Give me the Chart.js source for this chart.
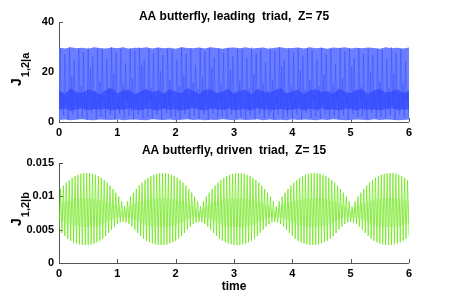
<!DOCTYPE html>
<html>
<head>
<meta charset="utf-8">
<script src="https://cdn.jsdelivr.net/npm/chart.js@4.4.0/dist/chart.umd.min.js"></script>
<style>
  html, body { margin: 0; padding: 0; background: #fff; }
  #wrap { position: relative; width: 452px; height: 296px; overflow: hidden; }
  canvas { position: absolute; left: 0; }
</style>
</head>
<body>
<div id="wrap">
  <canvas id="chartA" width="452" height="138" style="top:0px"></canvas>
  <canvas id="chartB" width="452" height="156" style="top:140px"></canvas>
</div>
<script>
// ---- data ----
const titleA = "AA butterfly, leading  triad,  Z= 75";
const titleB = "AA butterfly, driven  triad,  Z= 15";
const xTicks = [0, 1, 2, 3, 4, 5, 6];
const yTicksA = [0, 20, 40];
const yTicksB = [0, 0.005, 0.01, 0.015];

// leading triad, envelopes sampled every 0.1 in time
const envStepA = 0.1;
const envTopA = [
  29.8, 29.4, 29.9, 29.5, 29.7, 29.3, 29.9, 29.6, 29.4, 29.8,
  29.5, 29.9, 29.3, 29.7, 29.6, 29.9, 29.4, 29.8, 29.5, 29.7,
  29.3, 29.9, 29.6, 29.5, 29.8, 29.4, 29.9, 29.6, 29.3, 29.7,
  29.8, 29.5, 29.9, 29.4, 29.6, 29.8, 29.3, 29.7, 29.9, 29.5,
  29.6, 29.8, 29.4, 29.9, 29.5, 29.7, 29.3, 29.8, 29.6, 29.9,
  29.4, 29.7, 29.5, 29.8, 29.6, 29.3, 29.9, 29.5, 29.7, 29.4,
  29.8
];
const envBottomA = [
  0.8, 1.0, 0.7, 0.9, 1.1, 0.8, 0.7, 1.0, 0.9, 0.8,
  1.1, 0.7, 0.9, 1.0, 0.8, 0.7, 1.1, 0.9, 0.8, 1.0,
  0.7, 0.9, 1.1, 0.8, 1.0, 0.7, 0.9, 0.8, 1.1, 0.9,
  0.7, 1.0, 0.8, 0.9, 1.1, 0.7, 1.0, 0.8, 0.9, 0.7,
  1.1, 0.8, 1.0, 0.9, 0.7, 1.0, 0.8, 1.1, 0.9, 0.7,
  0.8, 1.0, 0.9, 0.7, 1.1, 0.8, 1.0, 0.9, 0.7, 0.8,
  1.0
];
// dense dark band near the bottom
const bandLowA = [
  4.8, 5.3, 4.6, 5.0, 5.5, 4.7, 5.2, 4.9, 5.4, 4.6,
  5.1, 4.8, 5.5, 4.9, 4.7, 5.3, 5.0, 4.6, 5.4, 4.8,
  5.2, 4.7, 5.0, 5.5, 4.9, 4.6, 5.3, 5.1, 4.8, 5.4,
  4.7, 5.0, 5.2, 4.6, 5.5, 4.9, 5.1, 4.8, 5.3, 4.7,
  5.0, 5.4, 4.6, 5.2, 4.9, 5.5, 4.8, 5.0, 4.7, 5.3,
  5.1, 4.6, 5.4, 4.9, 5.0, 4.7, 5.2, 5.5, 4.8, 5.0,
  4.9
];
const bandHighA = [
  12.5, 11.2, 13.4, 12.0, 11.6, 13.1, 12.3, 11.0, 12.8, 13.5,
  11.4, 12.6, 13.0, 11.1, 12.2, 13.3, 11.8, 12.7, 11.3, 13.2,
  12.1, 11.5, 13.6, 12.4, 11.2, 12.9, 13.1, 11.7, 12.0, 13.4,
  11.3, 12.5, 12.9, 11.0, 13.3, 12.2, 11.6, 12.8, 13.5, 11.4,
  12.3, 13.0, 11.1, 12.6, 13.2, 11.9, 12.4, 11.3, 13.4, 12.1,
  11.5, 12.9, 13.1, 11.2, 12.7, 13.3, 11.8, 12.2, 13.0, 11.6,
  12.4
];
// fast oscillation: lows at t = 0, 0.04, ... and highs in between
const stepA = 0.02;
const lowsA = [
  1.2, 5.5, 2.6, 7.1, 1.0, 4.2, 3.1, 8.0, 1.5, 6.2,
  2.0, 4.6, 0.9, 7.4, 3.6, 5.1, 1.3, 6.6, 2.3, 8.6,
  1.1, 4.9, 2.8, 7.0, 0.8, 5.8, 3.3, 6.1, 1.7, 8.3,
  2.4, 4.4, 1.0, 7.6, 3.0, 5.3, 1.4, 6.8, 2.1, 8.1,
  1.2, 4.7, 2.7, 7.3, 0.9, 5.6, 3.4, 6.4, 1.6, 8.8,
  2.2, 4.3, 1.1, 7.2, 3.2, 5.0, 1.3, 6.9, 2.5, 8.2,
  1.0, 4.8, 2.9, 7.5, 0.8, 5.7, 3.5, 6.3, 1.8, 8.5,
  2.3, 4.5, 1.2, 7.0, 3.1, 5.4, 1.5, 6.7, 2.0, 8.7,
  1.1, 4.6, 2.6, 7.4, 0.9, 5.9, 3.3, 6.2, 1.7, 8.4,
  2.5, 4.2, 1.0, 7.1, 3.0, 5.2, 1.4, 6.5, 2.2, 8.0,
  1.3, 4.9, 2.8, 7.6, 0.8, 5.5, 3.6, 6.0, 1.6, 8.6,
  2.1, 4.4, 1.1, 7.3, 3.4, 5.1, 1.2, 6.8, 2.4, 8.3,
  1.0, 4.7, 2.7, 7.2, 0.9, 5.8, 3.2, 6.4, 1.9, 8.9,
  2.3, 4.3, 1.2, 7.5, 3.5, 5.3, 1.5, 6.6, 2.0, 8.1,
  1.2, 4.8, 2.9, 7.0, 0.8, 5.6, 3.1, 6.1, 1.8, 8.4,
  1.5
];
const highsA = [
  29.6, 12.0, 27.1, 9.5, 29.8, 18.2, 24.5, 11.0, 29.5, 14.3,
  28.0, 10.2, 29.7, 21.4, 26.2, 12.5, 29.4, 16.1, 29.0, 10.5,
  25.3, 13.7, 29.9, 19.5, 27.8, 9.8, 29.3, 15.0, 23.6, 11.8,
  29.6, 17.4, 28.5, 10.9, 29.8, 22.7, 25.1, 12.2, 29.5, 13.6,
  27.4, 9.7, 29.7, 20.3, 26.8, 11.5, 29.2, 16.8, 28.7, 10.1,
  24.9, 14.4, 29.9, 18.6, 27.3, 10.4, 29.4, 15.7, 22.8, 12.9,
  29.5, 17.9, 28.2, 9.9, 29.8, 21.8, 25.6, 11.3, 29.6, 14.8,
  27.7, 10.6, 29.5, 20.9, 26.4, 12.1, 29.3, 16.4, 28.9, 9.6,
  25.8, 13.2, 29.8, 19.1, 27.5, 10.8, 29.1, 15.4, 23.9, 12.6,
  29.7, 17.0, 28.4, 10.3, 29.9, 22.1, 24.7, 11.7, 29.4, 14.0,
  27.9, 9.9, 29.6, 20.6, 26.6, 12.8, 29.5, 16.6, 28.6, 10.7,
  25.1, 14.1, 29.8, 18.9, 27.2, 10.0, 29.2, 15.3, 23.2, 12.4,
  29.5, 17.6, 28.3, 10.6, 29.7, 22.4, 25.4, 11.1, 29.6, 13.9,
  27.6, 10.3, 29.4, 20.1, 26.9, 11.9, 29.3, 16.2, 28.8, 9.8,
  25.5, 13.5, 29.9, 19.3, 27.6, 10.9, 29.0, 15.6, 24.2, 12.3
];

// driven triad: troughs at t = 0, 0.05, ... and peaks half a step later
const stepB = 0.025;
const lowsB = [
  .0050, .0045, .00405, .00365, .00333, .00311, .00293, .0028, .00272, .0027,
  .00272, .0028, .00293, .00311, .00333, .00365, .00405, .0045, .0050, .00545, .00583, .00608, .00618,
  .00608, .00583, .00545, .0050, .0045, .00405, .00365, .00333, .00311, .00293, .0028, .00272, .0027,
  .00272, .0028, .00293, .00311, .00333, .00365, .00405, .0045, .0050, .00545, .00583, .00608, .00618,
  .00608, .00583, .00545, .0050, .0045, .00405, .00365, .00333, .00311, .00293, .0028, .00272, .0027,
  .00272, .0028, .00293, .00311, .00333, .00365, .00405, .0045, .0050, .00545, .00583, .00608, .00618,
  .00608, .00583, .00545, .0050, .0045, .00405, .00365, .00333, .00311, .00293, .0028, .00272, .0027,
  .00272, .0028, .00293, .00311, .00333, .00365, .00405, .0045, .0050, .00545, .00583, .00608, .00618,
  .00608, .00583, .00545, .0050, .0045, .00405, .00365, .00333, .00311, .00293, .0028, .00272, .0027,
  .00272, .0028, .00293, .00311, .00333, .00365, .00405
];
const highsB = [
  .0111, .0116, .01205, .01244, .01276, .01302, .01323, .01338, .01347, .0135,
  .01347, .01338, .01323, .01302, .01276, .01244, .01205, .0116, .0111, .01055, .00995, .00925, .0085,
  .00925, .00995, .01055, .0111, .0116, .01205, .01244, .01276, .01302, .01323, .01338, .01347, .0135,
  .01347, .01338, .01323, .01302, .01276, .01244, .01205, .0116, .0111, .01055, .00995, .00925, .0085,
  .00925, .00995, .01055, .0111, .0116, .01205, .01244, .01276, .01302, .01323, .01338, .01347, .0135,
  .01347, .01338, .01323, .01302, .01276, .01244, .01205, .0116, .0111, .01055, .00995, .00925, .0085,
  .00925, .00995, .01055, .0111, .0116, .01205, .01244, .01276, .01302, .01323, .01338, .01347, .0135,
  .01347, .01338, .01323, .01302, .01276, .01244, .01205, .0116, .0111, .01055, .00995, .00925, .0085,
  .00925, .00995, .01055, .0111, .0116, .01205, .01244, .01276, .01302, .01323, .01338, .01347, .0135,
  .01347, .01338, .01323, .01302, .01276, .01244
];
// pale green haze in the middle of the driven band, every 0.1
const hazeStepB = 0.1;
const hazeLowB = [
  .00653, .00605, .00569, .00551, .00541, .00541, .00551, .00569, .00605, .00653, .00686, .00676, .00686,
  .00653, .00605, .00569, .00551, .00541, .00541, .00551, .00569, .00605, .00653, .00686, .00676, .00686,
  .00653, .00605, .00569, .00551, .00541, .00541, .00551, .00569, .00605, .00653, .00686, .00676, .00686,
  .00653, .00605, .00569, .00551, .00541, .00541, .00551, .00569, .00605, .00653, .00686, .00676, .00686,
  .00653, .00605, .00569, .00551, .00541, .00541, .00551, .00569, .00605
];
const hazeHighB = [
  .00897, .00925, .00946, .00963, .00971, .00971, .00963, .00946, .00925, .00897, .00851, .00769, .00851,
  .00897, .00925, .00946, .00963, .00971, .00971, .00963, .00946, .00925, .00897, .00851, .00769, .00851,
  .00897, .00925, .00946, .00963, .00971, .00971, .00963, .00946, .00925, .00897, .00851, .00769, .00851,
  .00897, .00925, .00946, .00963, .00971, .00971, .00963, .00946, .00925, .00897, .00851, .00769, .00851,
  .00897, .00925, .00946, .00963, .00971, .00971, .00963, .00946, .00925
];

const FONT = "'Liberation Sans', Arial, Helvetica, sans-serif";

// lows and highs alternate along time
function zigzag(lows, highs, step) {
  const pts = [];
  for (let i = 0; i < lows.length; i++) {
    pts.push({ x: 2 * i * step, y: lows[i] });
    if (i < highs.length) pts.push({ x: (2 * i + 1) * step, y: highs[i] });
  }
  return pts;
}
function series(vals, step) {
  return vals.map((v, i) => ({ x: i * step, y: v }));
}

// matlab-like axes: left + bottom lines, inward ticks, title over the box, J_{sub} label
const axesDecor = {
  id: "axesDecor",
  beforeDatasetsDraw(chart, args, opts) {
    const ctx = chart.ctx;
    const a = chart.chartArea;
    const xs = chart.scales.x, ys = chart.scales.y;
    ctx.save();
    ctx.strokeStyle = "#555";
    ctx.lineWidth = 1;
    ctx.beginPath();
    ctx.moveTo(Math.round(a.left) + 0.5, a.top);
    ctx.lineTo(Math.round(a.left) + 0.5, Math.round(a.bottom) + 0.5);
    ctx.lineTo(a.right, Math.round(a.bottom) + 0.5);
    xTicks.forEach(v => {
      const px = Math.round(xs.getPixelForValue(v)) + 0.5;
      ctx.moveTo(px, a.bottom);
      ctx.lineTo(px, a.bottom - 4);
    });
    opts.yTicks.forEach(v => {
      const py = Math.round(ys.getPixelForValue(v)) + 0.5;
      ctx.moveTo(a.left, py);
      ctx.lineTo(a.left + 4, py);
    });
    ctx.stroke();
    ctx.restore();
  },
  afterDraw(chart, args, opts) {
    const ctx = chart.ctx;
    const a = chart.chartArea;
    ctx.save();
    ctx.fillStyle = "#000";
    ctx.textBaseline = "alphabetic";
    ctx.textAlign = "center";
    ctx.font = "bold 12px " + FONT;
    ctx.fillText(opts.title, (a.left + a.right) / 2, opts.titleY);

    ctx.translate(21, opts.labelY);
    ctx.rotate(-Math.PI / 2);
    ctx.textAlign = "left";
    ctx.font = "bold 14px " + FONT;
    ctx.fillText("J", 0, 0);
    const w = ctx.measureText("J").width;
    ctx.font = "bold 11px " + FONT;
    ctx.fillText(opts.sub, w + 1, 8);
    ctx.restore();
  }
};

function makeChart(id, datasets, yMax, yTicks, opts) {
  return new Chart(document.getElementById(id).getContext("2d"), {
    type: "line",
    data: { datasets: datasets },
    options: {
      responsive: false,
      animation: false,
      parsing: false,
      normalized: true,
      elements: { point: { radius: 0 }, line: { tension: 0 } },
      layout: { padding: { left: 0, right: 43, top: opts.top, bottom: 0 } },
      plugins: {
        legend: { display: false },
        tooltip: { enabled: false },
        title: { display: false },
        filler: { propagate: false },
        axesDecor: { yTicks: yTicks, sub: opts.sub, labelY: 86, title: opts.title, titleY: opts.titleY }
      },
      scales: {
        x: {
          type: "linear",
          min: 0,
          max: 6,
          afterFit: s => { s.height = opts.xHeight; },
          afterBuildTicks: s => { s.ticks = xTicks.map(v => ({ value: v })); },
          grid: { display: false, drawTicks: false },
          border: { display: false },
          ticks: {
            color: "#000",
            padding: 4,
            maxRotation: 0,
            font: { family: FONT, size: 11, weight: "bold" },
            callback: v => String(v)
          },
          title: {
            display: !!opts.xTitle,
            text: opts.xTitle || "",
            color: "#000",
            padding: { top: 0, bottom: 2.5 },
            font: { family: FONT, size: 12, weight: "bold" }
          }
        },
        y: {
          type: "linear",
          min: 0,
          max: yMax,
          afterFit: s => { s.width = 59; },
          afterBuildTicks: s => { s.ticks = yTicks.map(v => ({ value: v })); },
          grid: { display: false, drawTicks: false },
          border: { display: false },
          ticks: {
            color: "#000",
            padding: 5,
            font: { family: FONT, size: 11, weight: "bold" },
            callback: v => String(+Number(v).toFixed(3))
          }
        }
      }
    },
    plugins: [axesDecor]
  });
}

makeChart("chartA", [
  { data: series(envBottomA, envStepA), borderWidth: 0, fill: false, order: 5 },
  { data: series(envTopA, envStepA), borderWidth: 0, fill: 0, backgroundColor: "rgb(106,126,255)", order: 4 },
  { data: series(bandLowA, envStepA), borderWidth: 0, fill: false, order: 3 },
  { data: series(bandHighA, envStepA), borderWidth: 0, fill: 2, backgroundColor: "rgba(40,62,255,0.6)", order: 2 },
  { data: zigzag(lowsA, highsA, stepA), borderColor: "rgba(45,70,255,0.4)", borderWidth: 1, fill: false, order: 1 }
], 40, yTicksA, { title: titleA, titleY: 19.5, top: 22, xHeight: 16, sub: "1,2|a" });

makeChart("chartB", [
  { data: series(hazeLowB, hazeStepB), borderWidth: 0, fill: false, order: 3 },
  { data: series(hazeHighB, hazeStepB), borderWidth: 0, fill: 0, backgroundColor: "rgba(110,225,40,0.2)", order: 2 },
  { data: zigzag(lowsB, highsB, stepB), borderColor: "rgba(95,230,0,0.85)", borderWidth: 0.8, fill: false, order: 1 }
], 0.015, yTicksB, { title: titleB, titleY: 14, top: 23, xHeight: 33, sub: "1,2|b", xTitle: "time" });
</script>
</body>
</html>
